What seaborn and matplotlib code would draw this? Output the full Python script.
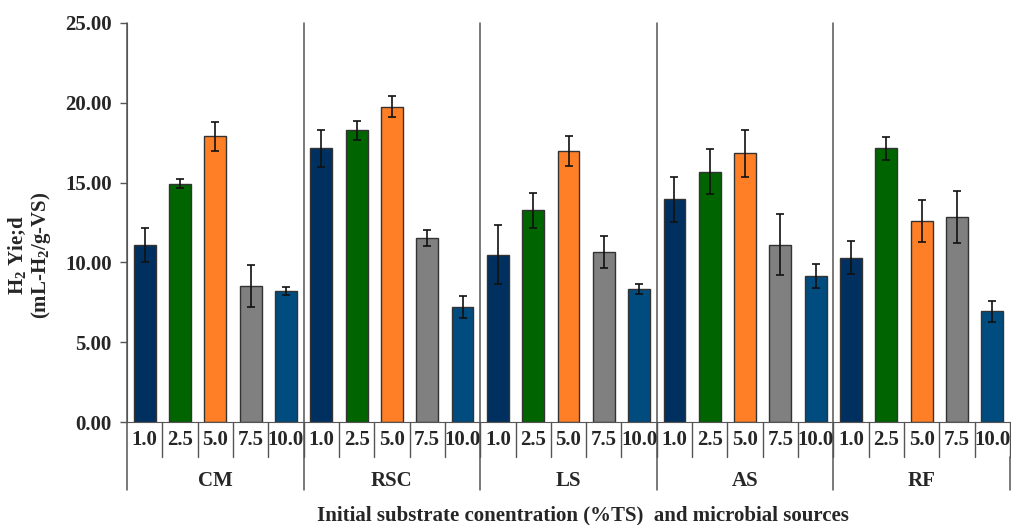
import numpy as np
import pandas as pd
import matplotlib
matplotlib.use("Agg")
import matplotlib.pyplot as plt
import matplotlib.transforms as mtransforms
import seaborn as sns

sources = ["CM", "RSC", "LS", "AS", "RF"]
concs = ["1.0", "2.5", "5.0", "7.5", "10.0"]
yield_cm = [11.08, 14.93, 17.90, 8.51, 8.20]
yield_rsc = [17.15, 18.27, 19.76, 11.54, 7.21]
yield_ls = [10.47, 13.27, 16.96, 10.68, 8.34]
yield_as = [13.95, 15.68, 16.83, 11.12, 9.16]
yield_rf = [10.29, 17.15, 12.59, 12.82, 6.94]
err_cm = [1.05, 0.27, 0.90, 1.30, 0.27]
err_rsc = [1.15, 0.60, 0.67, 0.50, 0.70]
err_ls = [1.85, 1.10, 0.95, 1.00, 0.29]
err_as = [1.42, 1.42, 1.46, 1.90, 0.77]
err_rf = [1.04, 0.71, 1.31, 1.63, 0.65]
colors = ["#00305F", "#006400", "#FF7F27", "#808080", "#004C7F"]
yticks = [0, 5, 10, 15, 20, 25]

values = [yield_cm, yield_rsc, yield_ls, yield_as, yield_rf]
errors = [err_cm, err_rsc, err_ls, err_as, err_rf]
rows = []
for s, vals, errs in zip(sources, values, errors):
    for c, v, e in zip(concs, vals, errs):
        rows.append({"slot": f"{s}-{c}", "source": s, "conc": c, "value": v, "err": e})
df = pd.DataFrame(rows)
order = list(df["slot"])

sns.set_style("white")
plt.rcParams["font.family"] = ["Liberation Serif", "DejaVu Serif"]
plt.rcParams["font.weight"] = "bold"
plt.rcParams["mathtext.fontset"] = "custom"
plt.rcParams["mathtext.rm"] = "Liberation Serif:bold"
plt.rcParams["mathtext.bf"] = "Liberation Serif:bold"

FS = 15

fig = plt.figure(figsize=(10.11, 5.25), dpi=100)
ax = fig.add_axes([127 / 1011, 1 - 422 / 525, (1010 - 127) / 1011, (422 - 23) / 525])

sns.barplot(data=df, x="slot", y="value", hue="conc", hue_order=concs,
            palette=colors, order=order, dodge=False, width=0.62, saturation=1,
            edgecolor="#333333", linewidth=1.0, legend=False, ax=ax)
ax.errorbar(np.arange(len(df)), df["value"], yerr=df["err"], fmt="none",
            ecolor="#111111", elinewidth=1.2, capsize=3, capthick=1.2)

ax.set_xlim(-0.5, len(df) - 0.5)
ax.set_ylim(0, 25)
ax.set_yticks(yticks)
ax.set_yticklabels([f"{t:.2f}" for t in yticks], fontsize=FS, fontweight="bold")
ax.tick_params(axis="y", which="both", left=True, direction="out", length=5, width=1, color="#555555", pad=6)
ax.set_xticks([])
ax.set_xlabel("")
ax.set_ylabel("")
for sp in ["top", "right"]:
    ax.spines[sp].set_visible(False)
ax.spines["left"].set_color("#555555")
ax.spines["bottom"].set_color("#555555")
ax.spines["left"].set_bounds(0, 25)

trans = mtransforms.blended_transform_factory(ax.transData, ax.transAxes)
n = len(df)
for k in range(n):
    ax.plot([k + 0.5, k + 0.5], [0, -0.088], transform=trans, color="#555555", lw=1, clip_on=False)
for g in range(len(sources) + 1):
    x = g * len(concs) - 0.5
    top = -0.088 if g == len(sources) else 1.0
    ax.plot([x, x], [top, -0.17], transform=trans, color="#555555", lw=1.1, clip_on=False)
for k, row in df.iterrows():
    ax.text(k, -0.046, row["conc"], transform=trans, ha="center", va="center",
            fontsize=FS, fontweight="bold")
for g, s in enumerate(sources):
    ax.text(g * len(concs) + (len(concs) - 1) / 2, -0.147, s, transform=trans,
            ha="center", va="center", fontsize=FS, fontweight="bold")

fig.text(583 / 1011, 1 - 515 / 525, "Initial substrate conentration (%TS)  and microbial sources",
         ha="center", va="center", fontsize=FS, fontweight="bold")
fig.text(30 / 1011, 1 - 255 / 525, "H$_2$ Yie;d\n(mL-H$_2$/g-VS)", rotation=90,
         ha="center", va="center", multialignment="center", fontsize=FS, fontweight="bold",
         linespacing=1.0)

fig.savefig("out.png", dpi=100)
